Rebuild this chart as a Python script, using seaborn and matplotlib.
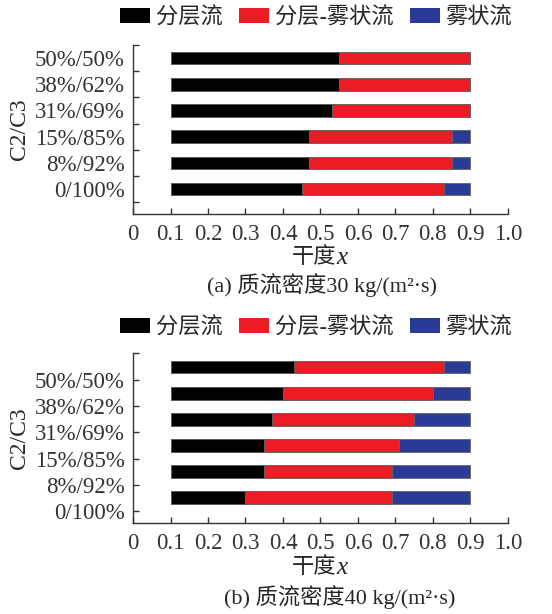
import pandas as pd
import seaborn as sns
import matplotlib.pyplot as plt
from matplotlib.patches import Patch

# C2/C3 ratios, bottom to top
categories = ['0/100%', '8%/92%', '15%/85%', '31%/69%', '38%/62%', '50%/50%']
x_start = 0.1
x_end = 0.9

# (a) 30 kg/(m2 s): end of stratified, end of stratified-mist
strat_end_a = [0.45, 0.47, 0.47, 0.53, 0.55, 0.55]
trans_end_a = [0.83, 0.85, 0.85, 0.90, 0.90, 0.90]
# (b) 40 kg/(m2 s)
strat_end_b = [0.30, 0.35, 0.35, 0.37, 0.40, 0.43]
trans_end_b = [0.69, 0.69, 0.71, 0.75, 0.80, 0.83]

flow_names = ['分层流', '分层-雾状流', '雾状流']
flow_colors = ['#000000', '#EC1C24', '#2A3A96']
xticks = [0, 0.1, 0.2, 0.3, 0.4, 0.5, 0.6, 0.7, 0.8, 0.9, 1.0]
xtick_labels = ['0', '0.1', '0.2', '0.3', '0.4', '0.5', '0.6', '0.7', '0.8', '0.9', '1.0']
subtitles = ['(a) 质流密度30 kg/(m²·s)', '(b) 质流密度40 kg/(m²·s)']

sns.set_theme(style='ticks')
plt.rcParams['font.family'] = ['Liberation Serif', 'Noto Sans CJK SC']
plt.rcParams['font.size'] = 16
plt.rcParams['axes.edgecolor'] = '#333333'
plt.rcParams['xtick.color'] = '#333333'
plt.rcParams['ytick.color'] = '#333333'

fig = plt.figure(figsize=(5.52, 6.14), dpi=100)
ax_a = fig.add_axes([0.241, 0.6515, 0.679, 0.2752])
ax_b = fig.add_axes([0.241, 0.1477, 0.679, 0.2769])

order = categories[::-1]


def draw(ax, strat_end, trans_end):
    df = pd.DataFrame({
        'C2/C3': categories,
        'mist': [x_end - x_start] * len(categories),
        'trans': [v - x_start for v in trans_end],
        'strat': [v - x_start for v in strat_end],
    })
    # overlapping bars -> stacked look, longest first
    for col, color in zip(['mist', 'trans', 'strat'], flow_colors[::-1]):
        sns.barplot(data=df, x=col, y='C2/C3', order=order, orient='h',
                    color=color, width=0.48, errorbar=None, left=x_start,
                    edgecolor='#666666', linewidth=0.6, saturation=1, ax=ax)
    ax.set_xlim(0, 1.0)
    ax.set_xticks(xticks)
    ax.set_xticklabels(xtick_labels)
    ax.tick_params(axis='x', direction='in', length=4, width=1, pad=7, labelsize=16.5)
    ax.set_xlabel('')
    ax.set_ylabel('C2/C3', fontsize=17)
    ax.yaxis.set_label_coords(-0.275, 0.5)
    sns.despine(ax=ax)
    for s in ['left', 'bottom']:
        ax.spines[s].set_linewidth(1)


draw(ax_a, strat_end_a, trans_end_a)
draw(ax_b, strat_end_b, trans_end_b)

# (a): labels on bars, ticks between bars
ax_a.set_ylim(5.95, -0.5)
ax_a.set_yticks(range(len(order)))
ax_a.set_yticklabels(order)
ax_a.set_yticks([i - 0.5 for i in range(len(order) + 1)], minor=True)
ax_a.tick_params(axis='y', which='major', length=0, pad=6, labelsize=16.5)
ax_a.tick_params(axis='y', which='minor', direction='in', length=4.5, width=1)

# (b): labels at ticks, shifted half a step below bars
ax_b.set_ylim(5.98, -0.53)
ax_b.set_yticks([i + 0.5 for i in range(len(order))])
ax_b.set_yticklabels(order)
ax_b.set_yticks([-0.53], minor=True)
ax_b.tick_params(axis='y', which='major', direction='in', length=4.5, width=1,
                 pad=6, labelsize=16.5)
ax_b.tick_params(axis='y', which='minor', direction='in', length=4.5, width=1)

handles = [Patch(facecolor=c, edgecolor='none') for c in flow_colors]
for ycen in [0.971, 0.466]:
    fig.legend(handles, flow_names, loc='center', bbox_to_anchor=(0.573, ycen),
               ncol=3, frameon=False, handlelength=1.35, handleheight=0.63,
               handletextpad=0.25, columnspacing=0.75, fontsize=16,
               borderaxespad=0, borderpad=0)

# x label: Chinese text plus italic x
for ycen in [1 - 258 / 614, 1 - 568 / 614]:
    fig.text(336 / 552, ycen, '干度', ha='right', va='center', fontsize=16)
    fig.text(336 / 552, ycen, 'x', ha='left', va='center', fontsize=18,
             style='italic', family='Liberation Serif')
fig.text(322 / 552, 1 - 285 / 614, subtitles[0], ha='center', va='center', fontsize=16)
fig.text(340 / 552, 1 - 597 / 614, subtitles[1], ha='center', va='center', fontsize=16)

fig.savefig('out.png', dpi=100)
